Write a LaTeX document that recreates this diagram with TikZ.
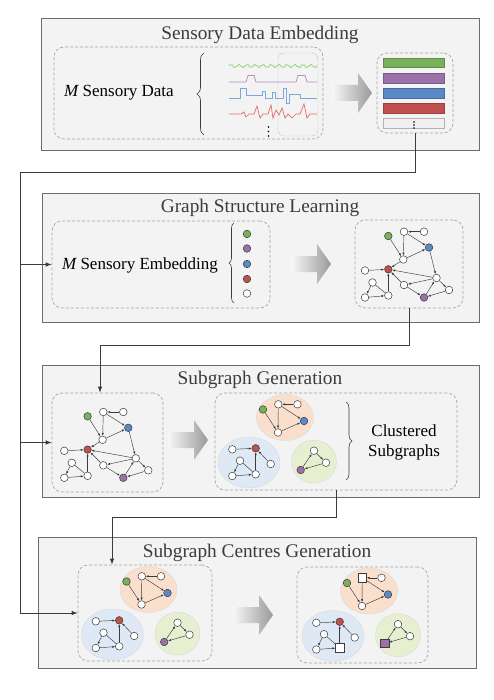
\documentclass[tikz,border=0pt]{standalone}
\usepackage{fontspec}
\setmainfont{Liberation Serif}
\usetikzlibrary{positioning, calc, shapes.geometric, decorations.pathreplacing, shadows, arrows.meta}

\definecolor{cG}{HTML}{78B15A}
\definecolor{cP}{HTML}{9C70A8}
\definecolor{cB}{HTML}{5A89C8}
\definecolor{cR}{HTML}{C0504D}
\definecolor{sG}{HTML}{93D07C}
\definecolor{sP}{HTML}{B985C8}
\definecolor{sB}{HTML}{7FA7DF}
\definecolor{sR}{HTML}{E26B68}
\definecolor{eO}{HTML}{FADFCD}
\definecolor{eB}{HTML}{DFE9F5}
\definecolor{eG}{HTML}{E7EFD1}
\definecolor{panelFill}{HTML}{F3F3F3}
\definecolor{ink}{HTML}{3C3C3C}

% shaded block arrow, #1 = left end, #2 = middle height
\newcommand{\fatarrow}[2]{%
	\shade[left color=gray!6, right color=gray!80] (#1,#2-8) -- ++(26,0) -- ++(0,-12) -- ++(14,20) -- ++(-14,20) -- ++(0,-12) -- ++(-26,0) -- cycle;}

% learned graph, #1 = name prefix
\newcommand{\fullgraph}[1]{%
	\node[vtx, fill=cG] (#1g) at (388.3,236) {};
	\node[vtx] (#1a) at (404,231.7) {};
	\node[vtx] (#1b) at (424,231.7) {};
	\node[vtx, fill=cB] (#1u) at (429,247.5) {};
	\node[vtx] (#1c) at (403.3,259.5) {};
	\node[vtx, fill=cR] (#1r) at (388.3,269.3) {};
	\node[vtx] (#1d) at (365,270.5) {};
	\node[vtx] (#1e) at (436.5,278) {};
	\node[vtx] (#1f) at (404,285) {};
	\node[vtx] (#1h) at (449,290) {};
	\node[vtx, fill=cP] (#1p) at (424,297.5) {};
	\node[vtx] (#1i) at (372.5,282.5) {};
	\node[vtx] (#1j) at (365,297.5) {};
	\node[vtx] (#1k) at (388.3,295.5) {};
	\draw[link] (#1b) -- (#1a);
	\draw[link] (#1a) -- (#1c);
	\draw[link] (#1g) -- (#1c);
	\draw[link] (#1a) -- (#1u);
	\draw[link] (#1c) -- (#1u);
	\draw[link] (#1u) -- (#1e);
	\draw[link] (#1d) -- (#1r);
	\draw[link] (#1c) -- (#1r);
	\draw[link] (#1e) -- (#1r);
	\draw[link] (#1f) -- (#1r);
	\draw[link] (#1k) -- (#1r);
	\draw[link] (#1e) -- (#1f);
	\draw[link] (#1e) -- (#1h);
	\draw[link] (#1h) -- (#1p);
	\draw[link] (#1f) -- (#1p);
	\draw[link] (#1p) -- (#1e);
	\draw[link] (#1i) -- (#1j);
	\draw[link] (#1j) -- (#1k);
	\draw[plain] (#1i) -- (#1k);
}

% three clusters, #1 = prefix, #2 #3 #4 = styles of the centre nodes
\newcommand{\clusters}[4]{%
	\node[blob, fill=eO, minimum width=57, minimum height=46] (#1O) at (285,417.5) {};
	\node[blob, fill=eB, minimum width=62, minimum height=51] (#1B) at (249,462.5) {};
	\node[blob, fill=eG, minimum width=45, minimum height=43] (#1G) at (314,461.7) {};
	% orange group
	\node[vtx, fill=cG] (#1g) at (263,409.5) {};
	\node[#2] (#1a) at (278.3,404.3) {};
	\node[vtx] (#1b) at (297.5,404.3) {};
	\node[vtx, fill=cB] (#1u) at (304,421) {};
	\node[vtx] (#1c) at (278,432.5) {};
	% blue group
	\node[vtx] (#1d) at (232.3,449.3) {};
	\node[vtx, fill=cR] (#1r) at (255.7,448.3) {};
	\node[vtx] (#1i) at (240,460.7) {};
	\node[vtx] (#1j) at (232.3,476) {};
	\node[#3] (#1k) at (255.7,474.3) {};
	\node[vtx] (#1x) at (270.7,464) {};
	% green group
	\node[vtx] (#1t) at (314,450.7) {};
	\node[vtx] (#1s) at (326,462.7) {};
	\node[#4] (#1p) at (300.7,470) {};
	\draw[link] (#1b) -- (#1a);
	\draw[link] (#1a) -- (#1c);
	\draw[link] (#1g) -- (#1c);
	\draw[link] (#1a) -- (#1u);
	\draw[link] (#1c) -- (#1u);
	\draw[link] (#1d) -- (#1r);
	\draw[link] (#1k) -- (#1r);
	\draw[link] (#1x) -- (#1r);
	\draw[link] (#1i) -- (#1j);
	\draw[link] (#1j) -- (#1k);
	\draw[plain] (#1i) -- (#1k);
	\draw[link] (#1p) -- (#1t);
	\draw[link] (#1t) -- (#1s);
	\draw[link] (#1s) -- (#1p);
}

\begin{document}
\begin{tikzpicture}[x=1pt, y=-1pt,
	panel/.style={draw=gray!85!black, fill=panelFill, line width=0.8pt, drop shadow={shadow xshift=1pt, shadow yshift=-1pt, opacity=.3}},
	dbox/.style={draw=gray!70, dash pattern=on 3pt off 2pt, rounded corners=10pt, line width=0.7pt, inner sep=0pt},
	title/.style={font=\fontsize{19.3}{23}\selectfont, text=ink},
	body/.style={font=\fontsize{17}{20}\selectfont, align=center},
	vtx/.style={circle, draw=ink, fill=white, line width=0.5pt, minimum size=7.6pt, inner sep=0pt},
	ctr/.style={rectangle, draw=ink, fill=white, line width=0.5pt, minimum size=8.4pt, inner sep=0pt},
	blob/.style={ellipse, draw=gray!30, line width=0.4pt, inner sep=0pt},
	link/.style={-{Latex[length=2.8pt,width=2.2pt]}, draw=ink, line width=0.45pt},
	plain/.style={draw=ink, line width=0.45pt},
	arrow/.style={-{Latex[length=6pt,width=4.5pt]}, draw=ink, line width=0.8pt},
	bar/.style={line width=0.5pt},
	brc/.style={decorate, draw=ink, line width=0.6pt}
	]

	\useasboundingbox (0,0) rectangle (493,700);

	% Sensory Data Embedding
	\draw[panel] (41,18) rectangle (479,150);
	\node[title] (tEmb) at (260,35) {Sensory Data Embedding};
	\node[dbox, minimum width=269, minimum height=92] (boxData) at (188.5,93) {};
	\node[body] (tData) at (119,93) {{\itshape M} Sensory Data};
	\draw[brc, decoration={brace, amplitude=7pt}] (204,135) -- (204,53);
	\draw[sG, line width=0.7pt] plot[domain=229:317, samples=150, smooth] (\x, {66 - 1.3*sin(45*(\x-229)) - 0.6*sin(115*(\x-229)+40)});
	\draw[sP, line width=0.7pt] (229,82) -- (246,82) -- (248,75.5) -- (254,75.5) -- (256,82) -- (296,82) -- (298,75.5) -- (305,75.5) -- (307,82) -- (317,82);
	\draw[sB, line width=0.7pt] (229,98) -- (240,98) -- (240,88) -- (246,88) -- (246,95) -- (262,95) -- (262,91) -- (265,91) -- (265,98) -- (272,98) -- (272,92) -- (275,92) -- (275,98) -- (283,98) -- (283,88) -- (286,88) -- (286,103) -- (289,103) -- (289,94) -- (300,94) -- (300,98) -- (317,98);
	\draw[sR, line width=0.7pt] (229,114) -- (241,114) -- (244,112) -- (246,117) -- (249,114) -- (254,114) -- (257,106) -- (260,118) -- (263,114) -- (268,114) -- (271,105) -- (273,118) -- (276,110) -- (279,115) -- (282,108) -- (285,118) -- (288,114) -- (292,118) -- (296,114) -- (300,114) -- (304,104) -- (307,118) -- (310,114) -- (317,114);
	\foreach \y in {127,131.5,136} \fill[black] (268.5,\y) circle (0.9);
	\node[draw=gray!70, dash pattern=on 1pt off 1pt, rounded corners=6pt, minimum width=40, minimum height=83, inner sep=0pt] (boxWin) at (298,94.5) {};
	\fatarrow{332}{93}
	\node[dbox, minimum width=76, minimum height=80] (boxBar) at (415,93) {};
	\draw[bar, draw=cG!80!black, fill=cG] (383,58) rectangle (444,67);
	\draw[bar, draw=cP!80!black, fill=cP] (383,73) rectangle (444,83);
	\draw[bar, draw=cB!80!black, fill=cB] (383,88) rectangle (444,98);
	\draw[bar, draw=cR!80!black, fill=cR] (383,103) rectangle (444,113);
	\draw[bar, draw=gray!60, fill=gray!12] (383,118) rectangle (444,128);
	\foreach \y in {122,125,128} \fill[black] (414,\y) circle (0.8);

	% Graph Structure Learning
	\draw[panel] (42,193) rectangle (479,322);
	\node[title] (tGsl) at (260,208) {Graph Structure Learning};
	\node[dbox, minimum width=218, minimum height=87] (boxEmb) at (161,264.5) {};
	\node[body] (tEmbd) at (140,265) {{\itshape M} Sensory Embedding};
	\draw[brc, decoration={brace, amplitude=5pt}] (234,303) -- (234,223);
	\node[vtx, fill=cG] (eGr) at (247,234) {};
	\node[vtx, fill=cP] (ePu) at (247,248.5) {};
	\node[vtx, fill=cB] (eBl) at (247,264) {};
	\node[vtx, fill=cR] (eRe) at (247,279) {};
	\node[vtx] (eWh) at (247,293.5) {};
	\fatarrow{291}{264}
	\node[dbox, minimum width=108, minimum height=88] (boxGr) at (409,264) {};
	\fullgraph{G}

	% Subgraph Generation
	\draw[panel] (42,365) rectangle (479,497);
	\node[title] (tSg) at (260,380) {Subgraph Generation};
	\node[dbox, minimum width=111, minimum height=99] (boxSgL) at (107.5,442.5) {};
	\begin{scope}[shift={(-300.7,180.3)}]
		\fullgraph{S}
	\end{scope}
	\fatarrow{168}{440}
	\node[dbox, minimum width=242, minimum height=97] (boxSgR) at (336,441.5) {};
	\clusters{C}{vtx}{vtx}{vtx, fill=cP}
	\draw[brc, decoration={brace, amplitude=6pt}] (346,402) -- (346,480);
	\node[body] (tClu) at (404,442) {Clustered\\Subgraphs};

	% Subgraph Centres Generation
	\draw[panel] (38,537) rectangle (476,668);
	\node[title] (tCg) at (257,553) {Subgraph Centres Generation};
	\node[dbox, minimum width=134, minimum height=96] (boxCL) at (145,613) {};
	\begin{scope}[shift={(-136.5,172)}]
		\clusters{L}{vtx}{vtx}{vtx, fill=cP}
	\end{scope}
	\fatarrow{233}{615}
	\node[dbox, minimum width=131, minimum height=96] (boxCR) at (362.5,615) {};
	\begin{scope}[shift={(84,173.5)}]
		\clusters{R}{ctr}{ctr}{ctr, fill=cP}
	\end{scope}

	% connectors
	\coordinate (turnA) at (20,172);
	\coordinate (turnB) at (100,345);
	\coordinate (turnC) at (112,517);
	\draw[arrow] (boxBar.south) |- (turnA) |- (boxCL.west);
	\draw[arrow] (turnA |- boxEmb.west) -- (boxEmb.west);
	\draw[arrow] (turnA |- boxSgL.west) -- (boxSgL.west);
	\draw[arrow] (boxGr.south) |- (turnB) -- (turnB |- boxSgL.north);
	\draw[arrow] (boxSgR.south) |- (turnC) -- (turnC |- boxCL.north);
\end{tikzpicture}
\end{document}
